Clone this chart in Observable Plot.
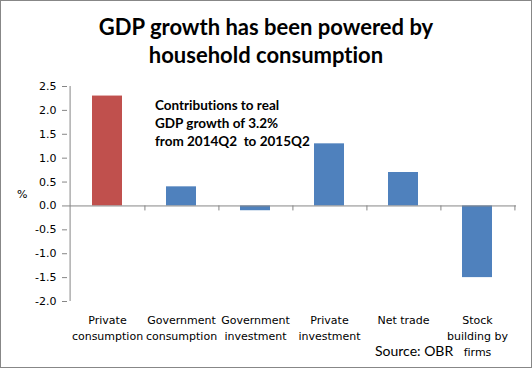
<!DOCTYPE html>
<html><head><meta charset="utf-8">
<script src="https://cdn.jsdelivr.net/npm/d3@7"></script>
<script src="https://cdn.jsdelivr.net/npm/@observablehq/plot@0.6"></script>
<style>
body{margin:0;background:#fff;}
#wrap{position:relative;width:532px;height:368px;overflow:hidden;background:#fff;font-variant-ligatures:none;}
#border{position:absolute;left:0;top:0;width:532px;height:368px;box-sizing:border-box;border:1px solid #878787;pointer-events:none;}
#title{position:absolute;left:0;top:13px;width:532px;text-align:center;font-family:Lato,sans-serif;font-weight:bold;font-size:22px;line-height:28px;color:#000;}
#note{position:absolute;left:155px;top:96px;font-family:Lato,sans-serif;font-weight:bold;font-size:13.5px;line-height:18px;color:#000;white-space:nowrap;}
#source{position:absolute;left:375px;top:343px;font-family:Lato,sans-serif;font-size:14px;line-height:16px;color:#000;white-space:nowrap;}
#pct{position:absolute;left:17px;top:189px;font-family:"DejaVu Sans",sans-serif;font-size:11px;line-height:11px;color:#000;}
#chart{position:absolute;left:0;top:70px;}
</style></head>
<body>
<div id="wrap">
  <div id="title">GDP growth has been powered by<br>household consumption</div>
  <div id="chart"></div>
  <div id="note">Contributions to real<br>GDP growth of 3.2%<br>from 2014Q2 &nbsp;to 2015Q2</div>
  <div id="pct">%</div>
  <div id="source">Source: OBR</div>
  <div id="border"></div>
</div>
<script>
const categories = ["Private consumption","Government consumption","Government investment","Private investment","Net trade","Stock building by firms"];
const tickLabels = ["Private\nconsumption","Government\nconsumption","Government\ninvestment","Private\ninvestment","Net trade","Stock\nbuilding by\nfirms"];
const values = [2.3, 0.4, -0.1, 1.3, 0.7, -1.5];
const barColors = ["#C0504D","#4F81BD","#4F81BD","#4F81BD","#4F81BD","#4F81BD"];
const yTicks = [-2.0,-1.5,-1.0,-0.5,0.0,0.5,1.0,1.5,2.0,2.5];

const data = categories.map((c,i)=>({cat:c, value:values[i], color:barColors[i]}));
const W = 532, H = 298, mL = 67, mR = 16, mT = 16, mB = 67;
const step = (W - mL - mR) / categories.length;
const gray = "#868686";

const chart = Plot.plot({
  width: W, height: H,
  marginLeft: mL, marginRight: mR, marginTop: mT, marginBottom: mB,
  style: {fontFamily: "'DejaVu Sans', sans-serif", fontSize: "11px", color: "#000", background: "transparent"},
  x: {type: "band", domain: categories, paddingInner: 0.6, paddingOuter: 0.3, label: null},
  y: {domain: [-2, 2.5], label: null},
  color: {type: "identity"},
  marks: [
    Plot.barY(data, {x: "cat", y: "value", fill: "color"}),
    Plot.ruleY([0], {stroke: gray, strokeWidth: 1}),
    Plot.ruleX([categories[0]], {dx: -step/2, y1: -2, y2: 2.5, stroke: gray}),
    Plot.ruleX(categories, {dx: step/2, y1: 0, y2: 0, insetBottom: -5, stroke: gray}),
    Plot.axisY(yTicks, {tickSize: 5, tickPadding: 6, stroke: gray, tickFormat: d => d.toFixed(1)}),
    Plot.axisX({tickSize: 0, tickPadding: 11, lineHeight: 1.45, tickFormat: d => tickLabels[categories.indexOf(d)]})
  ]
});
document.getElementById("chart").appendChild(chart);
</script>
</body></html>
